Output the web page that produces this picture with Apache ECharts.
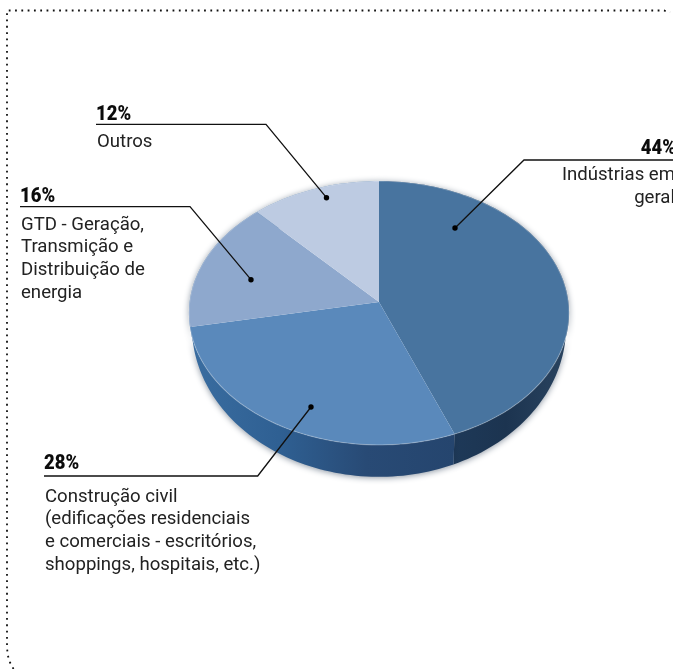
<!DOCTYPE html>
<html><head><meta charset="utf-8">
<style>html,body{margin:0;padding:0;background:#fff}#c{width:673px;height:669px}</style>
<script src="https://cdn.jsdelivr.net/npm/echarts@6/dist/echarts.min.js"></script>
</head><body><div id="c"></div>
<script>
const categories = ['Indústrias em geral','Construção civil','GTD','Outros'];
const values = [44, 28, 16, 12];
const topColors = ['#48749f','#5a89bb','#8ea8cd','#bdcbe2'];
const sideColors = [
  ['#22406a','#1e3a5a','#1c3450','#2a4460'],
  ['#3a6da0','#2f6093','#284a75','#25456e'],
  ['#3a6da0','#3a6da0','#3a6da0','#3a6da0'],
  ['#3a6da0','#3a6da0','#3a6da0','#3a6da0']
];
const PERSPECTIVE = 0.0833;
const total = values.reduce((a,b)=>a+b,0);
let running = 0;
const sliceData = values.map((v,i)=>{const s=running;running+=v;return [s/total,running/total,i];});

function project(frac){
  const t = frac*2*Math.PI, u = Math.sin(t), v = Math.cos(t), w = 1+PERSPECTIVE*v;
  return [u/w, v/w];
}
function lower(p){ return [p[0]*0.985, p[1]*(p[1]>0?0.85:1.144)-0.087]; }
function rim(a,b){
  const n = Math.max(8, Math.ceil((b-a)*240)), pts=[];
  for(let k=0;k<=n;k++) pts.push(project(a+(b-a)*k/n));
  return pts;
}
function topItem(params, api){
  const a=api.value(0), b=api.value(1), i=api.value(2);
  const r = rim(a,b).map(p=>api.coord(p));
  return {type:'group',children:[
    {type:'polygon',shape:{points:[api.coord([0,0])].concat(r)},style:{fill:topColors[i]}},
    {type:'polyline',shape:{points:r},style:{fill:null,stroke:'rgba(255,255,255,0.25)',lineWidth:1.2}}
  ]};
}
function sideItem(params, api){
  const a=api.value(0), b=api.value(1), i=api.value(2);
  const r = rim(a,b);
  const pts = r.map(p=>api.coord(p)).concat(r.slice().reverse().map(p=>api.coord(lower(p))));
  const c = sideColors[i];
  return {type:'polygon',shape:{points:pts},style:{
    fill:{type:'linear',x:0,y:0,x2:1,y2:0,colorStops:c.map((col,k)=>({offset:k/(c.length-1),color:col}))},
    shadowBlur:6,shadowColor:'rgba(25,45,70,0.5)',shadowOffsetY:1}};
}

const ink='#222';
const bodyFont='Roboto';
function label(x,y,text,align){return {type:'text',x,y,style:{text,fill:ink,font:'400 18.6px '+bodyFont,align:align||'left',verticalAlign:'middle',lineHeight:22.7}};}
function pct(x,y,text,align){return {type:'text',x,y,scaleX:0.88,style:{text,fill:'#0c0c0c',font:'900 21px '+bodyFont,align:align||'left',verticalAlign:'bottom'}};}
function leader(pts){
  const end=pts[pts.length-1];
  return [{type:'polyline',shape:{points:pts},style:{fill:null,stroke:'#111',lineWidth:1.3},z:20},
          {type:'circle',shape:{cx:end[0],cy:end[1],r:2.7},style:{fill:'#000'},z:21}];
}
const border=[[13.5,669],[10,662.5],[8,656],[7,648],[7,10.5],[664,10.5],[670,12.5]];

const chart=echarts.init(document.getElementById('c'),null,{renderer:'canvas'});
chart.setOption({
  animation:false,
  backgroundColor:'#fff',
  grid:{left:189.6,top:171,width:378.8,height:262},
  xAxis:{type:'value',min:-1,max:1,show:false},
  yAxis:{type:'value',min:-1,max:1,show:false},
  series:[
    {type:'custom',renderItem:sideItem,data:sliceData,clip:false,silent:true,z:2},
    {type:'custom',renderItem:topItem,data:sliceData,clip:false,silent:true,z:3}
  ],
  graphic:{elements:[
    {type:'polyline',shape:{points:border},style:{fill:null,stroke:'#111',lineWidth:1.8,lineDash:[1.8,4.5]},z:1},
    ...leader([[96,124.3],[266,124.3],[326.5,197.7]]),
    ...leader([[20,206.7],[190,206.7],[251,279.7]]),
    ...leader([[44,476],[257.7,476],[311,407]]),
    ...leader([[673,160],[524,160],[455,228]]),
    pct(96,125,'12%'),label(97,142,'Outros'),
    pct(20,207,'16%'),label(21,259,'GTD - Geração,\nTransmição e\nDistribuição de\nenergia'),
    pct(44,474,'28%'),label(45,531,'Construção civil\n(edificações residenciais\ne comerciais - escritórios,\nshoppings, hospitais, etc.)'),
    pct(676,159,'44%','right'),label(675,187,'Indústrias em\ngeral','right')
  ]}
});
</script></body></html>
